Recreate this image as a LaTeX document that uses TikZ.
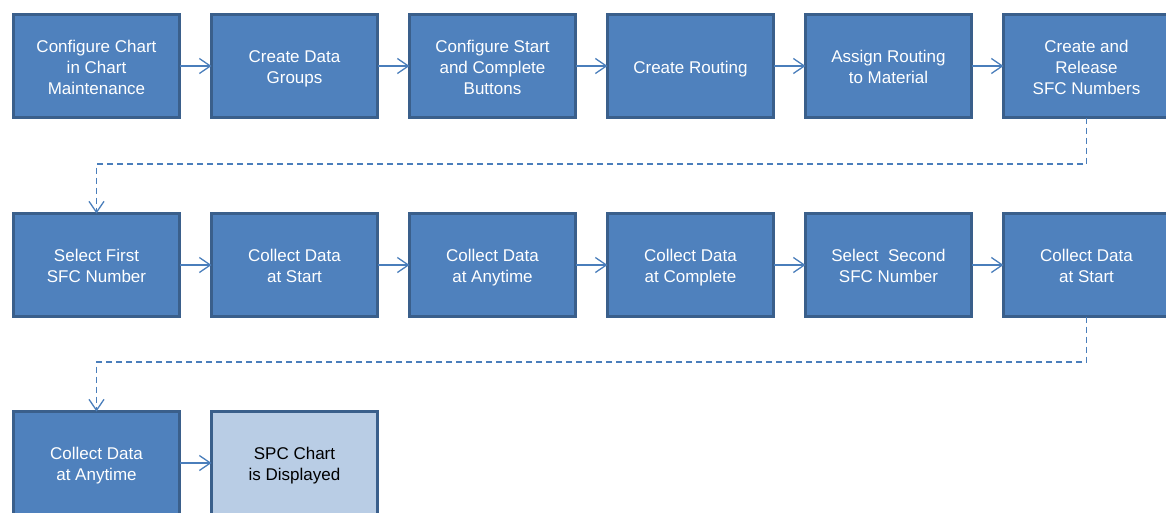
\documentclass[tikz,border=0pt]{standalone}
\usepackage{fontspec}
\setmainfont{Liberation Sans}
\usetikzlibrary{arrows.meta}
\definecolor{stepfill}{HTML}{4F81BD}
\definecolor{stepedge}{HTML}{3A5F8B}
\definecolor{endfill}{HTML}{B9CDE5}
\definecolor{linkcol}{HTML}{4A7EBB}
% centred lines of a step, set a little below the box centre
\newcommand{\steptext}[1]{\raisebox{-3pt}[\height][\depth]{\begin{tabular}{@{}c@{}}#1\end{tabular}}}
\tikzset{
  stepbox/.style={draw=stepedge, line width=3pt, fill=stepfill, text=white,
    minimum width=166pt, minimum height=103pt, inner sep=2pt, outer sep=0pt,
    font=\fontsize{17}{21}\selectfont},
  endbox/.style={stepbox, fill=endfill, text=black},
  flow/.style={draw=linkcol, line width=1.5pt, -{Straight Barb[length=11pt,width=15pt,line width=1.3pt]}},
  backflow/.style={flow, dash pattern=on 6pt off 4pt}
}
\begin{document}
\begin{tikzpicture}[x=1pt,y=-1pt]
\useasboundingbox (0,0) rectangle (1166,512);
\clip (0,0) rectangle (1166,512);
% first row
\node[stepbox] (b1) at (96.5,66) {\steptext{Configure Chart\\in Chart\\Maintenance}};
\node[stepbox] (b2) at (294.5,66) {\steptext{Create Data\\Groups}};
\node[stepbox] (b3) at (492.5,66) {\steptext{Configure Start\\and Complete\\Buttons}};
\node[stepbox] (b4) at (690.5,66) {\steptext{Create Routing}};
\node[stepbox] (b5) at (888.5,66) {\steptext{Assign Routing\\to Material}};
\node[stepbox] (b6) at (1086.5,66) {\steptext{Create and\\Release\\SFC Numbers}};
% second row
\node[stepbox] (c1) at (96.5,265) {\steptext{Select First\\SFC Number}};
\node[stepbox] (c2) at (294.5,265) {\steptext{Collect Data\\at Start}};
\node[stepbox] (c3) at (492.5,265) {\steptext{Collect Data\\at Anytime}};
\node[stepbox] (c4) at (690.5,265) {\steptext{Collect Data\\at Complete}};
\node[stepbox] (c5) at (888.5,265) {\steptext{Select\ \ Second\\SFC Number}};
\node[stepbox] (c6) at (1086.5,265) {\steptext{Collect Data\\at Start}};
% third row
\node[stepbox] (d1) at (96.5,463) {\steptext{Collect Data\\at Anytime}};
\node[endbox] (d2) at (294.5,463) {\steptext{SPC Chart\\is Displayed}};
% forward links
\draw[flow] (b1) -- (b2);
\draw[flow] (b2) -- (b3);
\draw[flow] (b3) -- (b4);
\draw[flow] (b4) -- (b5);
\draw[flow] (b5) -- (b6);
\draw[flow] (c1) -- (c2);
\draw[flow] (c2) -- (c3);
\draw[flow] (c3) -- (c4);
\draw[flow] (c4) -- (c5);
\draw[flow] (c5) -- (c6);
\draw[flow] (d1) -- (d2);
% row wrap-around links
\coordinate (w1) at (0,164);
\coordinate (w2) at (0,362);
\draw[backflow] (b6.south) -- (b6.south |- w1) -| (c1.north);
\draw[backflow] (c6.south) -- (c6.south |- w2) -| (d1.north);
\end{tikzpicture}
\end{document}
